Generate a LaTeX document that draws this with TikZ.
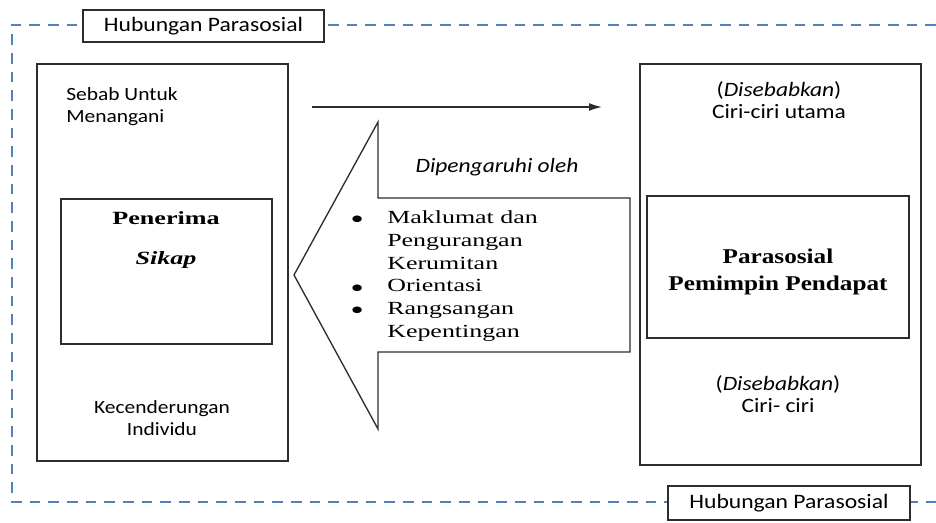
\documentclass[tikz,border=0pt]{standalone}
\usepackage{fontspec}
\setmainfont{Carlito}[FakeStretch=1.15]
\newfontfamily\listfont{Liberation Serif}[FakeStretch=1.4]
\newfontfamily\titlefont{Liberation Serif}[FakeStretch=1.2]
\usetikzlibrary{arrows.meta}
\definecolor{frameblue}{RGB}{79,129,189}
\definecolor{boxgray}{RGB}{45,45,45}
\newcommand{\listdot}{\makebox[27.75pt][l]{\raisebox{-3.8pt}[0pt][0pt]{\scalebox{1.5}{\textbullet}}}}
\begin{document}
\begin{tikzpicture}[x=0.75pt,y=-0.75pt,
    box/.style={draw=boxgray, line width=1pt, inner sep=0pt, outer sep=0pt},
    tagbox/.style={box, fill=white, font=\fontsize{15.4}{16.5}\selectfont},
    dashframe/.style={draw=frameblue, line width=1.5pt, dash pattern=on 8pt off 6pt},
    txt/.style={inner sep=0pt, align=center, font=\fontsize{15.3}{16.8}\selectfont},
    lefttxt/.style={txt, font=\fontsize{14}{16.5}\selectfont}]
    \useasboundingbox (0,0) rectangle (936,523);
    \coordinate (ftr) at (936,25);
    \coordinate (ftl) at (12,25);
    \coordinate (fbl) at (12,502);
    \coordinate (fbr) at (936,502);
    \draw[dashframe] (ftr) -- (ftl) -- (fbl) -- (fbr);
    \node[tagbox, minimum width=180.75pt, minimum height=24pt] (toptag) at (203.5,26) {Hubungan Parasosial};
    \node[tagbox, minimum width=181.5pt, minimum height=25.5pt] (bottag) at (789,503) {Hubungan Parasosial};
    \node[box, minimum width=188.25pt, minimum height=297.75pt] (left) at (162.5,262.5) {};
    \node[box, minimum width=158.25pt, minimum height=108.75pt] (penerima) at (166.5,271.5) {};
    \node[box, minimum width=210.75pt, minimum height=300.75pt] (right) at (780.5,264.5) {};
    \node[box, minimum width=196.5pt, minimum height=106.5pt] (pemimpin) at (778,267) {};
    \node[lefttxt, anchor=west, align=left] (sebab) at (66,107) {Sebab Untuk\\Menangani};
    \node[lefttxt] (kecenderungan) at (162,418) {Kecenderungan\\Individu};
    \node[inner sep=0pt, align=center, font=\listfont\bfseries\fontsize{14}{30}\selectfont] (penerimatxt) at (166,240) {Penerima\\\textit{Sikap}};
    \node[inner sep=0pt, align=center, font=\titlefont\bfseries\fontsize{15.75}{20.25}\selectfont] (pemimpintxt) at (778,272) {Parasosial\\Pemimpin Pendapat};
    \node[txt] (sebabkan1) at (779,100) {(\textit{Disebabkan})\\Ciri-ciri utama};
    \node[txt] (sebabkan2) at (778,394) {(\textit{Disebabkan})\\Ciri- ciri};
    \draw[box] (294,275) -- (378,122) -- (378,198) -- (630,198) -- (630,352) -- (378,352) -- (378,429) -- cycle;
    \node[txt] (dipengaruhi) at (497,167) {\textit{Dipengaruhi oleh}};
    \node[inner sep=0pt, anchor=west, font=\listfont\fontsize{13.9}{17.1}\selectfont] (faktor) at (350,276) {%
      \begin{tabular}{@{}l@{}l@{}}
        \listdot & Maklumat dan\\
          & Pengurangan\\
          & Kerumitan\\
        \listdot & Orientasi\\
        \listdot & Rangsangan\\
          & Kepentingan
      \end{tabular}};
    \coordinate (arrstart) at (312,107);
    \coordinate (arrend) at (602,107);
    \draw[line width=1pt, draw=boxgray, -{Latex[length=9.75pt,width=6pt]}] (arrstart) -- (arrend);
\end{tikzpicture}
\end{document}
